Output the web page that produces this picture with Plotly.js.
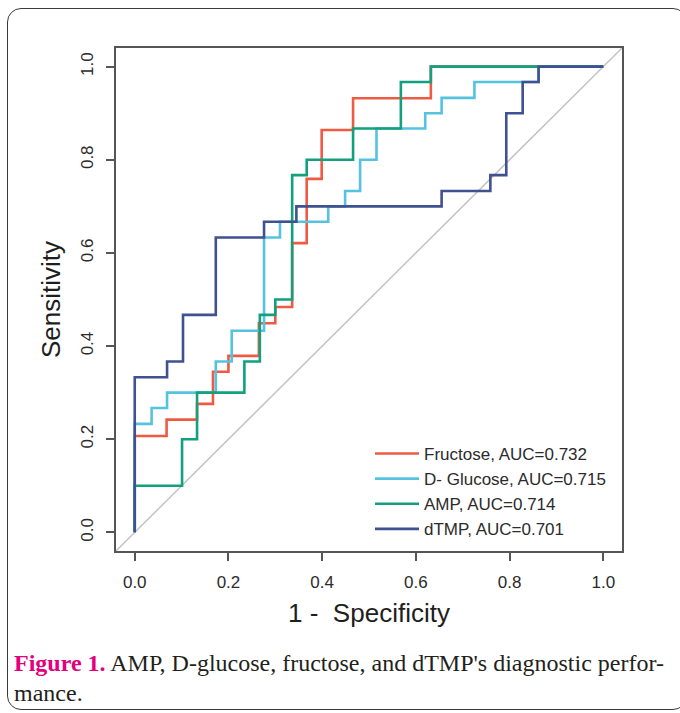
<!DOCTYPE html>
<html>
<head>
<meta charset="utf-8">
<script src="https://cdn.plot.ly/plotly-3.0.1.min.js"></script>
<style>
  html, body { margin: 0; padding: 0; background: #ffffff; }
  #wrap { position: relative; width: 680px; height: 713px; overflow: hidden; }
  #chart { position: absolute; left: 0; top: 0; width: 680px; height: 713px; }
  #frame { position: absolute; left: 7px; top: 8px; width: 680px; height: 702px;
           border: 1px solid #3a3a3a; border-radius: 14px; pointer-events: none; box-sizing: border-box; }
</style>
</head>
<body>
<div id="wrap">
  <div id="chart"></div>
  <div id="frame"></div>
</div>
<script>
// ---- Data ----
const seriesNames = ["Fructose, AUC=0.732", "D- Glucose, AUC=0.715", "AMP, AUC=0.714", "dTMP, AUC=0.701"];
const seriesColors = ["#ef5a43", "#55c3e0", "#12a07f", "#3f5190"];

// 1 - specificity (false positive rate) at each step
const fructoseFPR = [0, 0, 0.068, 0.133, 0.167, 0.200, 0.265, 0.300, 0.336, 0.367, 0.399, 0.466, 0.632, 1.0];
const fructoseTPR = [0, 0.207, 0.242, 0.276, 0.345, 0.379, 0.449, 0.484, 0.621, 0.759, 0.864, 0.932, 1.0, 1.0];

const glucoseFPR = [0, 0, 0.036, 0.069, 0.173, 0.207, 0.276, 0.310, 0.413, 0.449, 0.481, 0.516, 0.620, 0.655, 0.725, 0.862, 1.0];
const glucoseTPR = [0, 0.233, 0.267, 0.300, 0.367, 0.433, 0.633, 0.667, 0.700, 0.733, 0.800, 0.867, 0.900, 0.933, 0.967, 1.0, 1.0];

const ampFPR = [0, 0, 0.101, 0.133, 0.234, 0.267, 0.300, 0.336, 0.367, 0.466, 0.568, 0.632, 1.0];
const ampTPR = [0, 0.100, 0.200, 0.300, 0.367, 0.467, 0.500, 0.767, 0.800, 0.867, 0.967, 1.0, 1.0];

const dtmpFPR = [0, 0, 0.069, 0.103, 0.173, 0.276, 0.345, 0.655, 0.759, 0.793, 0.828, 0.862, 1.0];
const dtmpTPR = [0, 0.333, 0.367, 0.467, 0.633, 0.667, 0.700, 0.733, 0.767, 0.900, 0.967, 1.0, 1.0];

const tickVals = [0, 0.2, 0.4, 0.6, 0.8, 1.0];
const tickText = ["0.0", "0.2", "0.4", "0.6", "0.8", "1.0"];

const captionLabel = "Figure 1.";
const captionLine1 = " AMP, D-glucose, fructose, and dTMP's diagnostic perfor-";
const captionLine2 = "mance.";

// ---- Build traces ----
const xs = [fructoseFPR, glucoseFPR, ampFPR, dtmpFPR];
const ys = [fructoseTPR, glucoseTPR, ampTPR, dtmpTPR];
const traces = xs.map((x, i) => ({
  type: "scatter",
  mode: "lines",
  x: x,
  y: ys[i],
  name: seriesNames[i],
  line: { color: seriesColors[i], width: 2.6, shape: "hv" },
  hoverinfo: "x+y+name"
}));

const axisFont = { family: "Liberation Sans, Arial, sans-serif", size: 17, color: "#2b2b2b" };
const titleFont = { family: "Liberation Sans, Arial, sans-serif", size: 26, color: "#1e1e1e" };

const layout = {
  width: 680,
  height: 713,
  margin: { l: 116.3, r: 58.3, t: 48, b: 162, pad: 0 },
  paper_bgcolor: "rgba(0,0,0,0)",
  plot_bgcolor: "#ffffff",
  font: axisFont,
  showlegend: true,
  legend: {
    x: 0.502, xanchor: "left",
    y: 0.008, yanchor: "bottom",
    bgcolor: "rgba(0,0,0,0)",
    borderwidth: 0,
    itemwidth: 44,
    font: { family: "Liberation Sans, Arial, sans-serif", size: 17, color: "#2b2b2b" },
    tracegroupgap: 0
  },
  xaxis: {
    range: [-0.04, 1.04],
    tickvals: tickVals,
    ticktext: tickText,
    ticks: "outside",
    ticklen: 8,
    tickwidth: 1.5,
    tickcolor: "#555555",
    showline: true,
    linecolor: "#555555",
    linewidth: 2,
    mirror: true,
    showgrid: false,
    zeroline: false,
    tickfont: axisFont,
    ticklabelstandoff: 7,
    title: { text: "1 -  Specificity", font: titleFont, standoff: 12 }
  },
  yaxis: {
    range: [-0.04, 1.04],
    tickvals: tickVals,
    ticktext: tickText,
    tickangle: -90,
    ticks: "outside",
    ticklen: 8,
    tickwidth: 1.5,
    tickcolor: "#555555",
    showline: true,
    linecolor: "#555555",
    linewidth: 2,
    mirror: true,
    showgrid: false,
    zeroline: false,
    tickfont: axisFont,
    ticklabelstandoff: 6,
    title: { text: "Sensitivity", font: titleFont, standoff: 10 }
  },
  shapes: [{
    type: "line", xref: "paper", yref: "paper",
    x0: 0, y0: 0, x1: 1, y1: 1,
    line: { color: "#c4c4c4", width: 1.5 },
    layer: "below"
  }],
  annotations: [
    {
      xref: "paper", yref: "paper", x: -0.205, y: -0.2227,
      xanchor: "left", yanchor: "middle", showarrow: false,
      text: "<b><span style='color:#e3007d'>" + captionLabel + "</span></b>" + captionLine1,
      font: { family: "Liberation Serif, Times New Roman, serif", size: 24, color: "#231f20" },
      align: "left"
    },
    {
      xref: "paper", yref: "paper", x: -0.205, y: -0.2823,
      xanchor: "left", yanchor: "middle", showarrow: false,
      text: captionLine2,
      font: { family: "Liberation Serif, Times New Roman, serif", size: 24, color: "#231f20" },
      align: "left"
    }
  ]
};

Plotly.newPlot("chart", traces, layout, { displayModeBar: false, staticPlot: false });
</script>
</body>
</html>
